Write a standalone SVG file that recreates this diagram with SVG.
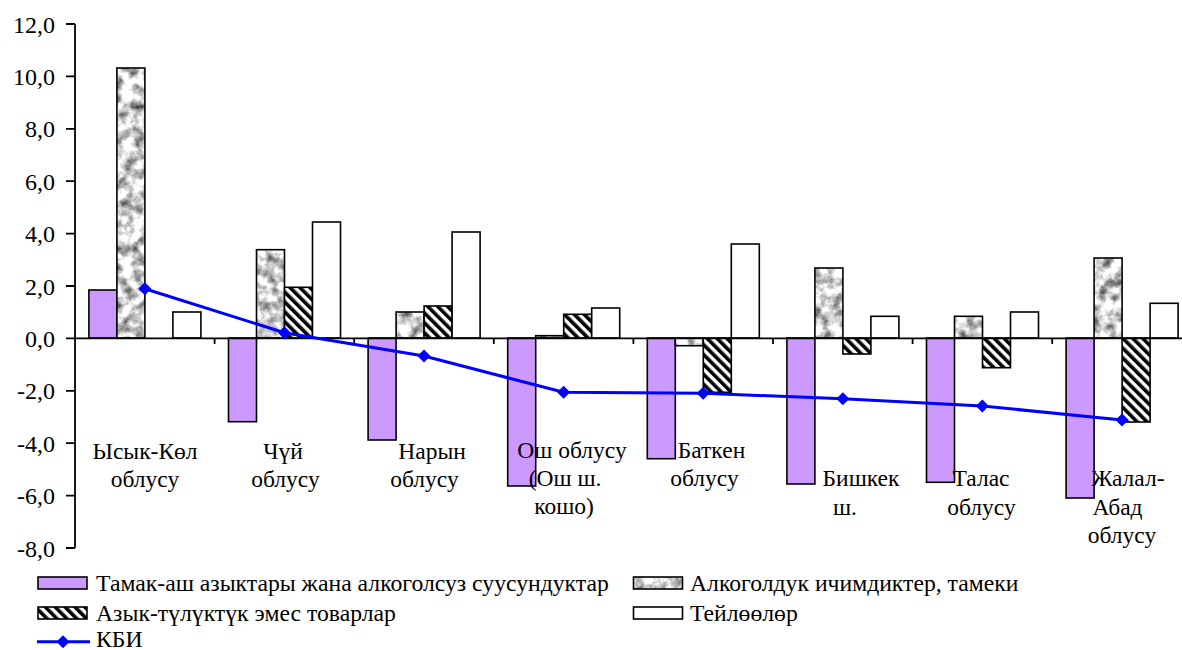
<svg xmlns="http://www.w3.org/2000/svg" width="1182" height="650" viewBox="0 0 1182 650">
<style>
text{font-family:"Liberation Serif","Times New Roman",serif;fill:#000}
.ax{font-size:24px;text-anchor:end}
.cat{font-size:23.5px;text-anchor:middle}
.lg{font-size:23.7px}
.bar{stroke:#000;stroke-width:1.6}
.p{fill:#CC99FF}
.w{fill:#fff}
.h{fill:url(#hatch)}
.g{fill:#999;stroke:none}
.gb{fill:none;stroke:#000;stroke-width:1.6}
.axis{stroke:#000;stroke-width:1.8;fill:none}
.kbi{fill:none;stroke:#0000FF;stroke-width:3}
</style>
<defs>
<pattern id="hatch" patternUnits="userSpaceOnUse" width="7" height="7" patternTransform="rotate(-45)">
<rect width="7" height="7" fill="#fff"/>
<rect width="3.6" height="7" fill="#000"/>
</pattern>
<filter id="granite" x="0" y="0" width="1" height="1" color-interpolation-filters="sRGB">
<feTurbulence type="fractalNoise" baseFrequency="0.09" numOctaves="3" seed="7" result="n"/>
<feColorMatrix in="n" type="matrix" values="1.5 0 0 0 0.07  1.5 0 0 0 0.07  1.5 0 0 0 0.07  0 0 0 0 1" result="gr"/>
<feComposite in="gr" in2="SourceGraphic" operator="in"/>
</filter>
<path id="dia" d="M0,-6.5 L6.5,0 L0,6.5 L-6.5,0 Z" fill="#0000FF"/>
</defs>
<rect width="1182" height="650" fill="#fff"/>

<g id="y-axis">
<line class="axis" x1="75" y1="24" x2="75" y2="548"/>
<path class="axis" d="M66,24H75M66,76.4H75M66,128.8H75M66,181.2H75M66,233.6H75M66,286H75M66,338.4H75M66,390.8H75M66,443.2H75M66,495.6H75M66,548H75"/>
<text class="ax" x="55" y="32.5">12,0</text>
<text class="ax" x="55" y="84.9">10,0</text>
<text class="ax" x="55" y="137.3">8,0</text>
<text class="ax" x="55" y="189.7">6,0</text>
<text class="ax" x="55" y="242.1">4,0</text>
<text class="ax" x="55" y="294.5">2,0</text>
<text class="ax" x="55" y="346.9">0,0</text>
<text class="ax" x="55" y="399.3">-2,0</text>
<text class="ax" x="55" y="451.7">-4,0</text>
<text class="ax" x="55" y="504.1">-6,0</text>
<text class="ax" x="55" y="556.5">-8,0</text>
</g>

<g id="bars">
<g id="ysyk-kol">
<rect class="bar p" x="88.9" y="290" width="28" height="48"/>
<rect class="g" x="116.9" y="68" width="28" height="270" filter="url(#granite)"/>
<rect class="gb" x="116.9" y="68" width="28" height="270"/>
<rect class="bar w" x="172.9" y="312" width="28" height="26"/>
</g>
<g id="chuy">
<rect class="bar p" x="228.5" y="338" width="28" height="83.7"/>
<rect class="g" x="256.5" y="249.7" width="28" height="88.3" filter="url(#granite)"/>
<rect class="gb" x="256.5" y="249.7" width="28" height="88.3"/>
<rect class="bar h" x="284.5" y="287.3" width="28" height="50.7"/>
<rect class="bar w" x="312.5" y="222" width="28" height="116"/>
</g>
<g id="naryn">
<rect class="bar p" x="368.1" y="338" width="28" height="102"/>
<rect class="g" x="396.1" y="312" width="28" height="26" filter="url(#granite)"/>
<rect class="gb" x="396.1" y="312" width="28" height="26"/>
<rect class="bar h" x="424.1" y="306" width="28" height="32"/>
<rect class="bar w" x="452.1" y="232" width="28" height="106"/>
</g>
<g id="osh">
<rect class="bar p" x="507.7" y="338" width="28" height="148"/>
<rect class="g" x="535.7" y="335.7" width="28" height="2.3" filter="url(#granite)"/>
<rect class="gb" x="535.7" y="335.7" width="28" height="2.3"/>
<rect class="bar h" x="563.7" y="314.3" width="28" height="23.7"/>
<rect class="bar w" x="591.7" y="308" width="28" height="30"/>
</g>
<g id="batken">
<rect class="bar p" x="647.3" y="338" width="28" height="120.7"/>
<rect class="g" x="675.3" y="338" width="28" height="7.7" filter="url(#granite)"/>
<rect class="gb" x="675.3" y="338" width="28" height="7.7"/>
<rect class="bar h" x="703.3" y="338" width="28" height="54.3"/>
<rect class="bar w" x="731.3" y="244" width="28" height="94"/>
</g>
<g id="bishkek">
<rect class="bar p" x="786.9" y="338" width="28" height="146"/>
<rect class="g" x="814.9" y="268" width="28" height="70" filter="url(#granite)"/>
<rect class="gb" x="814.9" y="268" width="28" height="70"/>
<rect class="bar h" x="842.9" y="338" width="28" height="16"/>
<rect class="bar w" x="870.9" y="316.3" width="28" height="21.7"/>
</g>
<g id="talas">
<rect class="bar p" x="926.5" y="338" width="28" height="144.3"/>
<rect class="g" x="954.5" y="316.3" width="28" height="21.7" filter="url(#granite)"/>
<rect class="gb" x="954.5" y="316.3" width="28" height="21.7"/>
<rect class="bar h" x="982.5" y="338" width="28" height="29.7"/>
<rect class="bar w" x="1010.5" y="312" width="28" height="26"/>
</g>
<g id="jalal-abad">
<rect class="bar p" x="1066.1" y="338" width="28" height="160"/>
<rect class="g" x="1094.1" y="258" width="28" height="80" filter="url(#granite)"/>
<rect class="gb" x="1094.1" y="258" width="28" height="80"/>
<rect class="bar h" x="1122.1" y="338" width="28" height="84"/>
<rect class="bar w" x="1150.1" y="303.3" width="28" height="34.7"/>
</g>
</g>

<g id="x-axis">
<line class="axis" x1="75" y1="338.4" x2="1182" y2="338.4"/>
<path class="axis" d="M214.6,338V344M354.2,338V344M493.8,338V344M633.4,338V344M773,338V344M912.6,338V344M1052.2,338V344"/>
</g>

<g id="connectors">
<polyline class="kbi" points="144.8,288.7 284.4,332.7 424,356 563.6,392.3 703.2,393.3 842.8,398.7 982.4,406 1122,420"/>
<use href="#dia" x="144.8" y="288.7"/>
<use href="#dia" x="284.4" y="332.7"/>
<use href="#dia" x="424" y="356"/>
<use href="#dia" x="563.6" y="392.3"/>
<use href="#dia" x="703.2" y="393.3"/>
<use href="#dia" x="842.8" y="398.7"/>
<use href="#dia" x="982.4" y="406"/>
<use href="#dia" x="1122" y="420"/>
</g>

<g id="category-labels">
<text class="cat" x="145" y="459">Ысык-Көл</text>
<text class="cat" x="145" y="487">облусу</text>
<text class="cat" x="283" y="459">Чүй</text>
<text class="cat" x="285.5" y="487">облусу</text>
<text class="cat" x="432" y="459">Нарын</text>
<text class="cat" x="424.5" y="487">облусу</text>
<text class="cat" x="572" y="458">Ош облусу</text>
<text class="cat" x="565" y="486">(Ош ш.</text>
<text class="cat" x="564" y="514">кошо)</text>
<text class="cat" x="711.5" y="458">Баткен</text>
<text class="cat" x="704.5" y="486">облусу</text>
<text class="cat" x="861" y="486">Бишкек</text>
<text class="cat" x="845" y="515">ш.</text>
<text class="cat" x="981" y="486">Талас</text>
<text class="cat" x="981.5" y="515">облусу</text>
<text class="cat" x="1128" y="486">Жалал-</text>
<text class="cat" x="1117.5" y="515">Абад</text>
<text class="cat" x="1122" y="543">облусу</text>
</g>

<g id="legend">
<rect class="bar p" x="38" y="577" width="49" height="12"/>
<text class="lg" x="96" y="590.5">Тамак-аш азыктары жана алкоголсуз суусундуктар</text>
<rect class="g" x="633.5" y="577" width="49" height="12" filter="url(#granite)"/>
<rect class="gb" x="633.5" y="577" width="49" height="12"/>
<text class="lg" x="690" y="590.5">Алкоголдук ичимдиктер, тамеки</text>
<rect class="bar h" x="38" y="607" width="49" height="12"/>
<text class="lg" x="96" y="620.5">Азык-түлүктүк эмес товарлар</text>
<rect class="bar w" x="633.5" y="607" width="49" height="12"/>
<text class="lg" x="690" y="620.5">Тейлөөлөр</text>
<line class="kbi" x1="37" y1="641.7" x2="90" y2="641.7"/>
<use href="#dia" x="63" y="641.7"/>
<text class="lg" x="96" y="647">КБИ</text>
</g>
</svg>
